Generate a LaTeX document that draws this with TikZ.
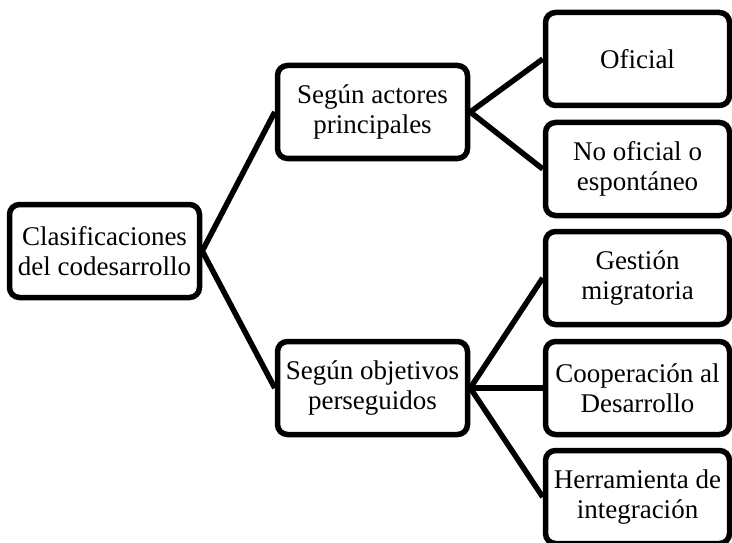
\documentclass[tikz,border=0pt]{standalone}
\usepackage{fontspec}
\setmainfont{Liberation Serif}
\usetikzlibrary{positioning}

\begin{document}
\begin{tikzpicture}[x=1pt, y=-1pt,
  box/.style={draw, line width=5.5pt, rounded corners=10pt, align=center,
              minimum height=93pt, inner sep=2pt,
              font=\fontsize{27}{29.5}\selectfont},
  link/.style={line width=5.5pt}]
  % Define dimensions
  \def\wa{190pt}
  \def\wb{184pt}
  \useasboundingbox (0,0) rectangle (732,543);

  % Root and middle boxes
  \node[box, minimum width=\wa] (root) at (104.5,251) {Clasificaciones\\del codesarrollo};
  \node[box, minimum width=\wa] (actores) at (372.5,112) {Según actores\\principales};
  \node[box, minimum width=\wa] (objetivos) at (372.5,388) {Según objetivos\\perseguidos};

  % Right column
  \node[box, minimum width=\wb] (oficial) at (637.5,59) {Oficial};
  \node[box, minimum width=\wb] (nooficial) at (637.5,169) {No oficial o\\espontáneo};
  \node[box, minimum width=\wb] (gestion) at (637.5,278) {Gestión\\migratoria};
  \node[box, minimum width=\wb] (cooperacion) at (637.5,388) {Cooperación al\\Desarrollo};
  \node[box, minimum width=\wb] (herramienta) at (637.5,497) {Herramienta de\\integración};

  % Draw connectors
  \foreach \a/\b in {root/actores, root/objetivos,
                     actores/oficial, actores/nooficial,
                     objetivos/gestion, objetivos/cooperacion, objetivos/herramienta}
      \draw[link] (\a.east) -- (\b.west);
\end{tikzpicture}
\end{document}
